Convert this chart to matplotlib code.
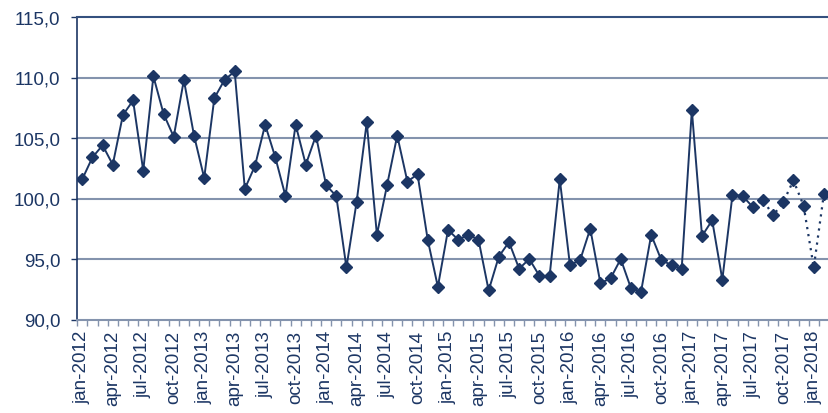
import matplotlib
matplotlib.use('Agg')
import matplotlib.pyplot as plt
import numpy as np

# monthly index, jan-2012 .. feb-2018
values = [101.6, 103.4, 104.4, 102.8, 106.9, 108.1, 102.3, 110.1, 107.0, 105.1, 109.8, 105.2,
          101.7, 108.3, 109.8, 110.5, 100.8, 102.7, 106.1, 103.4, 100.2, 106.1, 102.8, 105.2,
          101.1, 100.2, 94.3, 99.7, 106.3, 97.0, 101.1, 105.2, 101.4, 102.0, 96.6, 92.7,
          97.4, 96.6, 97.0, 96.6, 92.4, 95.2, 96.4, 94.2, 95.0, 93.6, 93.6, 101.6,
          94.5, 94.9, 97.5, 93.0, 93.4, 95.0, 92.6, 92.3, 97.0, 94.9, 94.5, 94.2,
          107.3, 96.9, 98.2, 93.3, 100.3, 100.2, 99.3, 99.9, 98.6, 99.7, 101.5, 99.4,
          94.3, 100.4]
months = ['jan', 'feb', 'mar', 'apr', 'may', 'jun', 'jul', 'aug', 'sep', 'oct', 'nov', 'dec']
years = [2012, 2013, 2014, 2015, 2016, 2017, 2018]
labels = ['%s-%d' % (m, y) for y in years for m in months][:len(values)]
dotted_from = 66  # jul-2017 onwards drawn dotted

navy = '#1c3664'
grid_c = '#8493ad'

plt.rcParams['font.family'] = ['Liberation Sans', 'DejaVu Sans']

fig = plt.figure(figsize=(8.29, 4.14), dpi=100)
ax = fig.add_axes([77.2 / 829, 93.5 / 414, (829 - 77.2) / 829, 302.5 / 414])

x = np.arange(len(values))
y = np.array(values)
ax.plot(x[:dotted_from + 1], y[:dotted_from + 1], color=navy, lw=1.4, zorder=3)
ax.plot(x[dotted_from:], y[dotted_from:], color=navy, lw=1.6, ls=(0, (1, 2.2)), zorder=3)
ax.plot(x, y, ls='none', marker='D', ms=6.2, color=navy, mec=navy, zorder=4)

ax.set_ylim(90, 115)
ax.set_xlim(-0.5, 73.13)
ax.set_yticks(np.arange(90, 116, 5))
ax.set_yticklabels(['%.1f' % v for v in np.arange(90, 116, 5)])
ax.set_yticklabels([t.get_text().replace('.', ',') for t in ax.get_yticklabels()])
for v in np.arange(95, 115, 5):
    ax.axhline(v, color=grid_c, lw=1.5, zorder=1)

# tick marks on category boundaries, labels every quarter
ax.set_xticks(np.arange(-0.5, len(values), 1.0))
ax.set_xticklabels([])
ax.set_xticks(x[::3], minor=True)
ax.set_xticklabels(labels[::3], minor=True, rotation=90)
ax.tick_params(axis='x', which='major', length=4.5, width=1, color=grid_c, direction='out')
ax.tick_params(axis='x', which='minor', length=0, pad=7.5, labelsize=13.5, labelcolor=navy)
ax.tick_params(axis='y', length=4, width=1, color=navy, pad=8, labelsize=13.5, labelcolor=navy)

for s in ['right']:
    ax.spines[s].set_visible(False)
ax.spines['left'].set_color(navy)
ax.spines['left'].set_linewidth(1.2)
ax.spines['top'].set_color('#34507e')
ax.spines['top'].set_linewidth(1.5)
ax.spines['bottom'].set_color(grid_c)
ax.spines['bottom'].set_linewidth(1.5)

fig.savefig('out.png', dpi=100)
